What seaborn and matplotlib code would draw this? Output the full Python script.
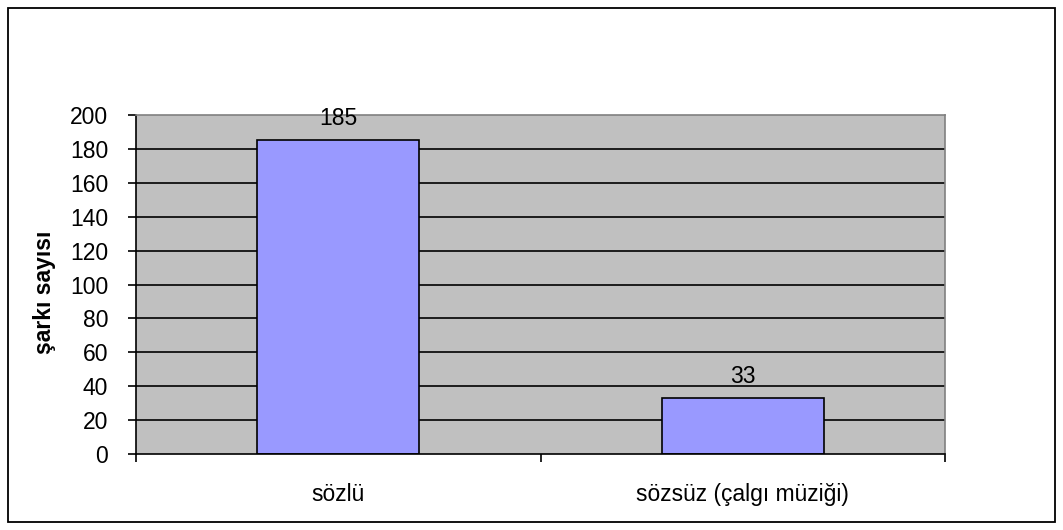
import matplotlib
matplotlib.use("Agg")
import matplotlib.pyplot as plt
import seaborn as sns
import pandas as pd
from matplotlib.patches import Rectangle

sns.set_style("white")
plt.rcParams["font.family"] = ["Liberation Sans", "DejaVu Sans"]
plt.rcParams["text.color"] = "black"
plt.rcParams["axes.labelcolor"] = "black"
plt.rcParams["xtick.color"] = "black"
plt.rcParams["ytick.color"] = "black"

# data
categories = ["sözlü", "sözsüz (çalgı müziği)"]
song_counts = [185, 33]
y_ticks = [0, 20, 40, 60, 80, 100, 120, 140, 160, 180, 200]

df = pd.DataFrame({"kategori": categories, "sayi": song_counts})

fig = plt.figure(figsize=(10.63, 5.30), dpi=100)
ax = fig.add_axes([136 / 1063, 1 - 454 / 530, 809 / 1063, 339 / 530])
ax.set_facecolor("#C0C0C0")

# horizontal gridlines
for v in y_ticks[1:-1]:
    ax.axhline(v, color="black", lw=1.2, zorder=1)

sns.barplot(data=df, x="kategori", y="sayi", color="#9999FF",
            edgecolor="black", linewidth=1.2, width=0.4, saturation=1,
            ax=ax, zorder=2)

# value labels above bars
for i, v in enumerate(song_counts):
    ax.annotate(str(v), (i, v), xytext=(0, 7.5), textcoords="offset points",
                ha="center", va="bottom", fontsize=16.5, annotation_clip=False)

ax.set_ylim(0, 200)
ax.set_xlim(-0.5, 1.5)
ax.set_yticks(y_ticks)
ax.set_xticks([0, 1])
ax.set_xticklabels(categories)
ax.set_xticks([-0.5, 0.5, 1.5], minor=True)
ax.tick_params(axis="x", which="major", length=0, pad=21, labelsize=16.5)
ax.tick_params(axis="x", which="minor", length=6, width=1.2, direction="out",
               color="black", bottom=True)
ax.tick_params(axis="y", length=6, width=1.2, direction="out", left=True,
               color="black", labelsize=16.5, pad=14)
ax.set_xlabel("")
ax.set_ylabel("şarkı sayısı", fontsize=16.5, fontweight="bold")
ax.yaxis.set_label_coords((56 - 136) / 809, (454 - 292) / 339)

for side in ["left", "bottom"]:
    ax.spines[side].set_color("black")
    ax.spines[side].set_linewidth(1.2)
for side in ["top", "right"]:
    ax.spines[side].set_color("#808080")
    ax.spines[side].set_linewidth(1.2)

# outer chart border
fig.patches.append(Rectangle((8 / 1063, 8 / 530), 1047 / 1063, 514 / 530,
                             transform=fig.transFigure, fill=False,
                             edgecolor="black", linewidth=1.3))

fig.savefig("out.png", dpi=100)
